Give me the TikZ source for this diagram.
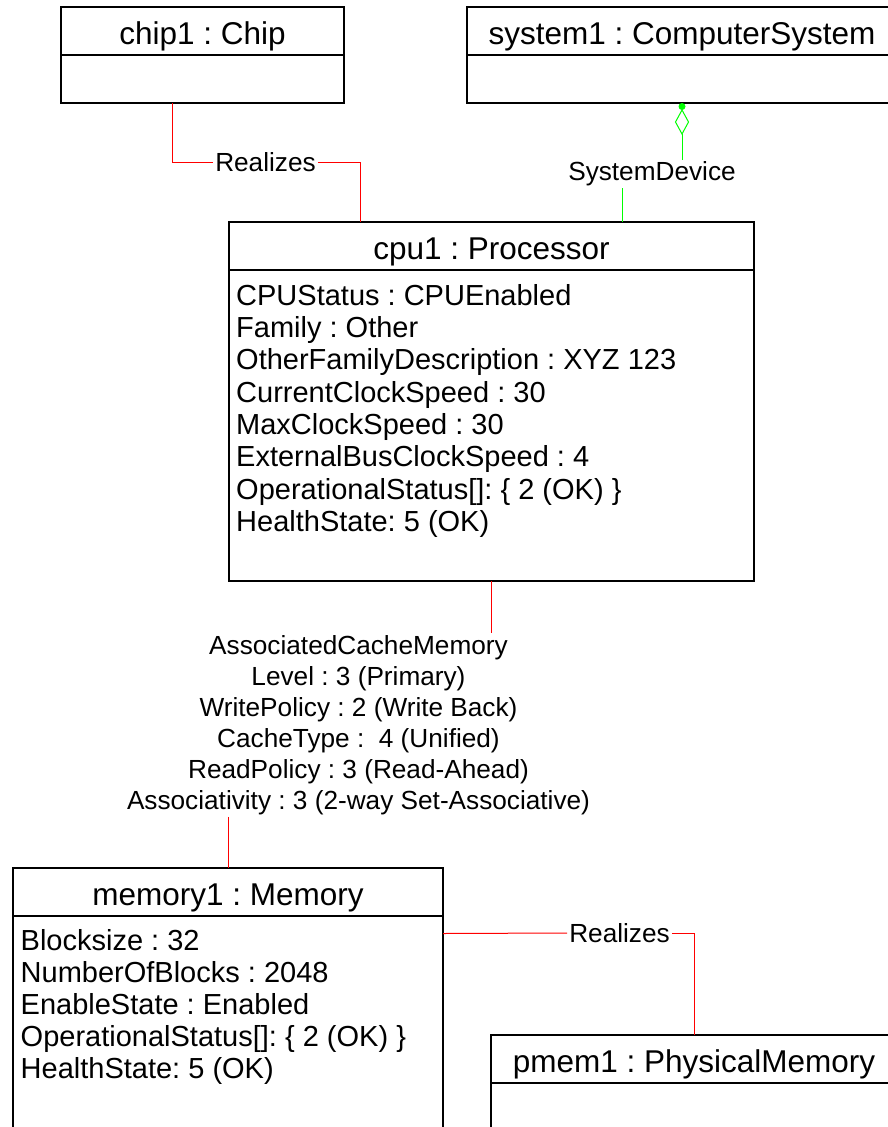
\documentclass[tikz,border=0pt]{standalone}
\usepackage{fontspec}
\setmainfont{Liberation Sans}
\frenchspacing
\usetikzlibrary{arrows.meta,positioning}
\begin{document}
\begin{tikzpicture}[x=1pt,y=-1pt,
  objtitle/.style={draw,line width=2pt,outer sep=0pt,inner sep=0pt,minimum height=48pt,text height=27pt,text depth=0pt,font=\fontsize{31.5}{36}\selectfont},
  objbody/.style={draw,line width=2pt,outer sep=0pt,inner sep=0pt},
  attrs/.style={align=left,anchor=north west,inner sep=0pt,font=\fontsize{29}{32.3}\selectfont},
  lab/.style={inner sep=2pt,font=\fontsize{26.2}{31}\selectfont},
  realize/.style={red,line width=1pt},
  sysdev/.style={green,line width=1pt}]
\useasboundingbox (0,0) rectangle (888,1127);
\clip (0,0) rectangle (888,1127);
\node[objtitle,minimum width=283pt] (chip) at (202.5,31) {chip1 : Chip};
\node[objbody,minimum width=283pt,minimum height=48pt,below=0pt of chip] (chipb) {};
\node[objtitle,minimum width=430pt] (sys) at (682,31) {system1 : ComputerSystem};
\node[objbody,minimum width=430pt,minimum height=48pt,below=0pt of sys] (sysb) {};
\node[objtitle,minimum width=525pt] (cpu) at (491.5,246) {cpu1 : Processor};
\node[objbody,minimum width=525pt,minimum height=311pt,below=0pt of cpu] (cpub) {};
\node[attrs] (cpuattr) at ([xshift=7pt,yshift=-14pt]cpub.north west) {CPUStatus : CPUEnabled\\Family : Other\\OtherFamilyDescription : XYZ 123\\CurrentClockSpeed : 30\\MaxClockSpeed : 30\\ExternalBusClockSpeed : 4\\OperationalStatus[]: \{ 2 (OK) \}\\HealthState: 5 (OK)};
\node[objtitle,minimum width=430pt] (mem) at (228,891.5) {memory1 : Memory};
\node[objbody,minimum width=430pt,minimum height=260pt,below=0pt of mem] (memb) {};
\node[attrs,font=\fontsize{29}{32}\selectfont] (memattr) at ([xshift=7.5pt,yshift=-14pt]memb.north west) {Blocksize : 32\\NumberOfBlocks : 2048\\EnableState : Enabled\\OperationalStatus[]: \{ 2 (OK) \}\\HealthState: 5 (OK)};
\node[objtitle,minimum width=406pt] (pmem) at (694,1059) {pmem1 : PhysicalMemory};
\node[objbody,minimum width=406pt,minimum height=100pt,below=0pt of pmem] (pmemb) {};
\node[lab] (real1) at (265.5,162) {Realizes};
\node[lab] (sdev) at (652,174) {SystemDevice};
\node[lab,align=center] (acm) at (358.5,725) {AssociatedCacheMemory\\Level : 3 (Primary)\\WritePolicy : 2 (Write Back)\\CacheType : \ 4 (Unified)\\ReadPolicy : 3 (Read-Ahead)\\Associativity : 3 (2-way Set-Associative)};
\node[lab] (real2) at (619.5,933) {Realizes};
\draw[realize] ([xshift=-30.5pt]chipb.south) |- (real1.west);
\draw[realize] (real1.east) -| ([xshift=-131.5pt]cpu.north);
\fill[green] ([yshift=-3.5pt]sysb.south) circle (3.5pt);
\draw[sysdev] ([yshift=-7pt]sysb.south) coordinate (dtop) -- ++(6.5,12) -- ++(-6.5,12) coordinate (dbot) -- ++(-6.5,-12) -- cycle;
\draw[sysdev] (dbot) -- (dbot |- sdev.north);
\coordinate (cpuin) at ([xshift=130.5pt]cpu.north);
\draw[sysdev] (sdev.south -| cpuin) -- (cpuin);
\draw[realize] (cpub.south) -- (cpub.south |- acm.north);
\draw[realize] (acm.south -| mem.north) -- (mem.north);
\coordinate (memout) at ([yshift=-18pt]memb.north east);
\draw[realize] (memout) -- (real2.west);
\draw[realize] (real2.east) -| (pmem.north);
\end{tikzpicture}
\end{document}
